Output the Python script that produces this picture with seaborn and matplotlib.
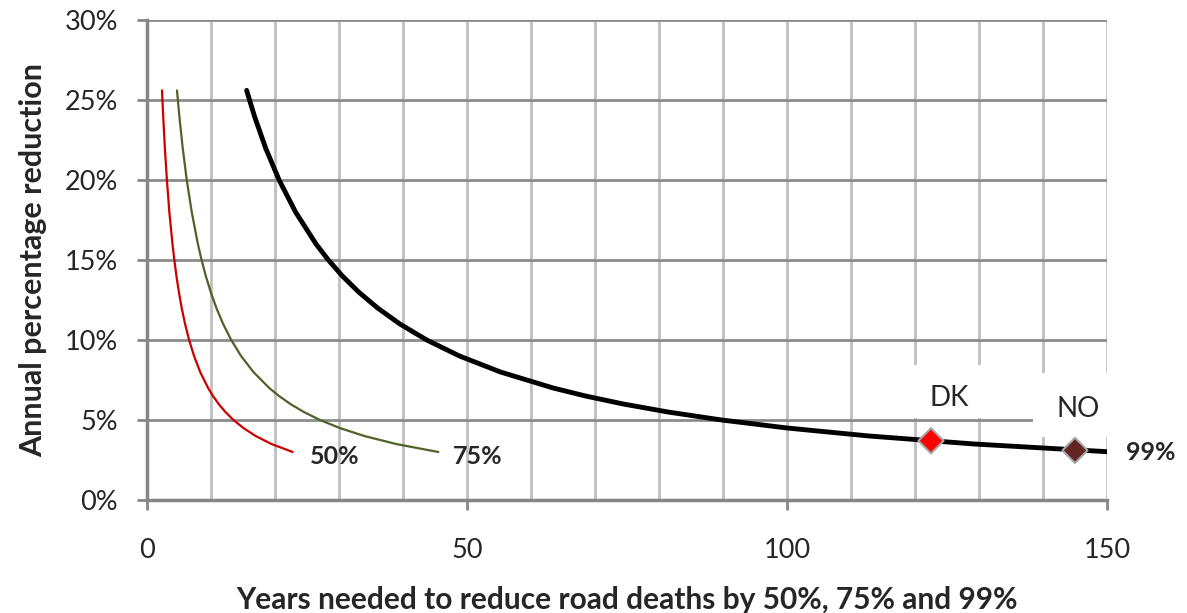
import numpy as np
import pandas as pd
import matplotlib
matplotlib.use("Agg")
import matplotlib.pyplot as plt
from matplotlib.patches import Rectangle
import seaborn as sns

# ---- data ----
rate_pct = [25.6, 24, 22, 20, 18, 16, 15, 14, 13, 12, 11, 10, 9, 8, 7, 6.5, 6, 5.5, 5, 4.5, 4, 3.5, 3.0]
years_50 = [2.34, 2.53, 2.79, 3.11, 3.49, 3.98, 4.27, 4.60, 4.98, 5.42, 5.95, 6.58, 7.35, 8.31, 9.55,
            10.31, 11.20, 12.25, 13.51, 15.06, 16.98, 19.45, 22.76]
years_75 = [4.69, 5.05, 5.58, 6.21, 6.99, 7.95, 8.53, 9.19, 9.96, 10.84, 11.90, 13.16, 14.70, 16.63, 19.10,
            20.63, 22.40, 24.51, 27.03, 30.11, 33.96, 38.91, 45.51]
rate_pct_99 = [25.6, 24, 22, 20, 18, 16, 15, 14, 13, 12, 11, 10, 9, 8, 7, 6.5, 6, 5.5, 5, 4.5, 4, 3.5, 3.02]
years_99 = [15.57, 16.78, 18.53, 20.64, 23.21, 26.41, 28.34, 30.53, 33.07, 36.03, 39.52, 43.71, 48.83, 55.23,
            63.46, 68.52, 74.42, 81.41, 89.79, 100.03, 112.82, 129.25, 150.0]
country_names = ["DK", "NO"]
country_years = [122.5, 145.0]
country_rate = [3.7, 3.1]
series_labels = ["50%", "75%", "99%"]
y_tick_labels = ["0%", "5%", "10%", "15%", "20%", "25%", "30%"]
x_tick_labels = ["0", "50", "100", "150"]

df50 = pd.DataFrame({"years": years_50, "rate": rate_pct})
df75 = pd.DataFrame({"years": years_75, "rate": rate_pct})
df99 = pd.DataFrame({"years": years_99, "rate": rate_pct_99})
dfc = pd.DataFrame({"years": country_years, "rate": country_rate, "name": country_names})

sns.set_theme(style="white")
plt.rcParams["font.family"] = ["Lato", "DejaVu Sans"]

fig = plt.figure(figsize=(11.87, 6.13), dpi=100)
ax = fig.add_axes([147 / 1187, 113 / 613, 960 / 1187, 480 / 613])

ax.set_xlim(0, 150)
ax.set_ylim(0, 30)
ax.set_axisbelow(True)

# gridlines
ax.set_xticks(np.arange(0, 151, 10), minor=True)
ax.set_xticks([0, 50, 100, 150])
ax.set_xticklabels(x_tick_labels)
ax.set_yticks([0, 5, 10, 15, 20, 25, 30])
ax.set_yticklabels(y_tick_labels)
ax.grid(True, which="minor", axis="x", color="#c0c0c0", lw=2, zorder=0.5)
ax.grid(True, which="major", axis="x", color="#c0c0c0", lw=2, zorder=0.5)
ax.grid(True, which="major", axis="y", color="#8c8c8c", lw=2, zorder=0.6)

for s in ["top", "right"]:
    ax.spines[s].set_visible(False)
for s in ["left", "bottom"]:
    ax.spines[s].set_color("#868686")
    ax.spines[s].set_linewidth(2.5)
    ax.spines[s].set_zorder(3)

ax.tick_params(axis="x", which="major", direction="out", length=7, width=2, color="#868686",
               pad=20, labelsize=19.5, bottom=True)
ax.tick_params(axis="x", which="minor", length=0)
ax.tick_params(axis="y", which="major", direction="out", length=7, width=2, color="#868686",
               pad=14, labelsize=19.5, left=True)

# white label boxes (covering gridlines)
ax.add_patch(Rectangle((113, 5.12), 24.5, 3.32, facecolor="white", edgecolor="none", zorder=1))
ax.add_patch(Rectangle((138.4, 3.94), 13, 4.0, facecolor="white", edgecolor="none", zorder=1,
                       clip_on=False))

sns.lineplot(data=df50, x="years", y="rate", ax=ax, color="#cc0000", lw=1.6, sort=False, zorder=2)
sns.lineplot(data=df75, x="years", y="rate", ax=ax, color="#4f6228", lw=1.6, sort=False, zorder=2)
sns.lineplot(data=df99, x="years", y="rate", ax=ax, color="black", lw=3.5, sort=False, zorder=2)
sns.scatterplot(data=dfc, x="years", y="rate", hue="name", palette=["#ff0000", "#632523"],
                marker="D", s=165, edgecolor="#a6a6a6", linewidth=1.5, ax=ax, legend=False, zorder=4)

ax.text(125.4, 6.4, "DK", fontsize=20, ha="center", va="center", zorder=3)
ax.text(145.5, 5.7, "NO", fontsize=20, ha="center", va="center", zorder=3)

ax.text(25.5, 2.7, series_labels[0], fontsize=18, fontweight="bold", ha="left", va="center")
ax.text(47.8, 2.7, series_labels[1], fontsize=18, fontweight="bold", ha="left", va="center")
ax.text(153, 3.0, series_labels[2], fontsize=18, fontweight="bold", ha="left", va="center",
        clip_on=False)

ax.set_xlabel("Years needed to reduce road deaths by 50%, 75% and 99%", fontsize=21.5,
              fontweight="bold", labelpad=17)
ax.set_ylabel("Annual percentage reduction", fontsize=22, fontweight="bold", labelpad=12)

fig.savefig("out.png", dpi=100)
